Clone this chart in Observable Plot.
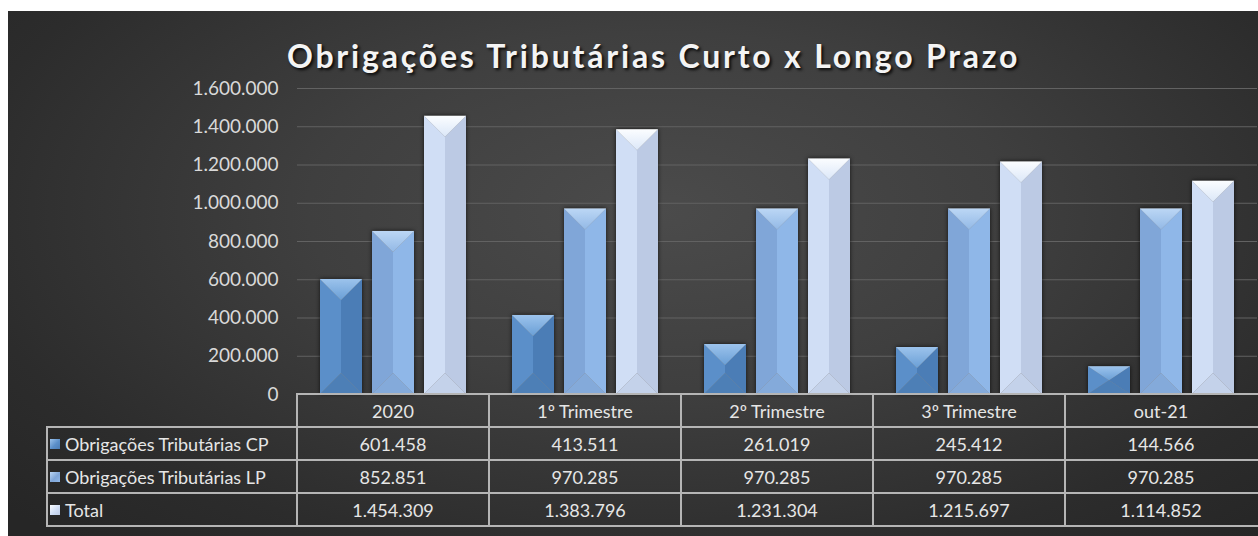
<!DOCTYPE html>
<html>
<head>
<meta charset="utf-8">
<script src="https://cdn.jsdelivr.net/npm/d3@7"></script>
<script src="https://cdn.jsdelivr.net/npm/@observablehq/plot@0.6"></script>
<style>
  body { margin: 0; background: #fff; width: 1258px; height: 536px; overflow: hidden; position: relative; font-family: Lato, "Open Sans", sans-serif; }
  #panel { position: absolute; left: 8px; top: 11px; width: 1250px; height: 525px;
    background: radial-gradient(ellipse 70% 85% at 52% 38%, #4b4b4b 0%, #3f3f3f 40%, #2c2c2c 80%, #262626 100%); }
  #title { position: absolute; left: 287px; top: 40px; font: bold 32px Lato, sans-serif; line-height: 32px;
    letter-spacing: 2.8px; color: #f4f4f4; white-space: nowrap; text-shadow: 2px 2px 3px rgba(0,0,0,0.85); }
  #chart { position: absolute; left: 0; top: 80px; }
  .cell { position: absolute; box-sizing: border-box; color: #e6e6e6; font-size: 18px; display: flex; align-items: center; justify-content: center; white-space: nowrap; }
  .hline, .vline { position: absolute; background: #b5b5b5; }
  .lab { justify-content: flex-start; padding-left: 3px; }
  .icon { width: 10px; height: 10px; margin-right: 5px; flex: none; }
</style>
</head>
<body>
<div id="panel"></div>
<div id="title">Obrigações Tributárias Curto x Longo Prazo</div>
<div id="chart"></div>
<div id="table"></div>
<script>
const categories = ["2020", "1º Trimestre", "2º Trimestre", "3º Trimestre", "out-21"];
const series = ["Obrigações Tributárias CP", "Obrigações Tributárias LP", "Total"];
const valuesCP = [601458, 413511, 261019, 245412, 144566];
const valuesLP = [852851, 970285, 970285, 970285, 970285];
const valuesTotal = [1454309, 1383796, 1231304, 1215697, 1114852];
const yTicks = [0, 200000, 400000, 600000, 800000, 1000000, 1200000, 1400000, 1600000];

const seriesValues = [valuesCP, valuesLP, valuesTotal];
const rows = [];
categories.forEach((c, ci) => series.forEach((s, si) => rows.push({categoria: c, serie: s, valor: seriesValues[si][ci]})));

const palette = {
  "Obrigações Tributárias CP": {top: ["#9cc3ec", "#6a9fd6"], left: "#5b8fc9", right: "#4b7db6", bottom: "#4d7fb6"},
  "Obrigações Tributárias LP": {top: ["#bcd7f5", "#93b9e6"], left: "#80a6d8", right: "#8fb7e8", bottom: "#84aada"},
  "Total": {top: ["#fbfdff", "#dbe7f8"], left: "#d0def5", right: "#bccae4", bottom: "#c4d2ea"}
};

const loc = d3.formatLocale({decimal: ",", thousands: ".", grouping: [3], currency: ["R$", ""]});
const fmt = loc.format(",d");

const NS = "http://www.w3.org/2000/svg";
function poly(g, pts, fill) {
  const p = document.createElementNS(NS, "polygon");
  p.setAttribute("points", pts.map(q => q.join(",")).join(" "));
  p.setAttribute("fill", fill);
  g.appendChild(p);
}
let gradId = 0;
function bevel(index, scales, values, dimensions, context, next) {
  const g = next(index, scales, values, dimensions, context);
  const rects = Array.from(g.querySelectorAll("rect"));
  rects.forEach((r, k) => {
    const pal = palette[rows[index[k]].serie];
    const x0 = +r.getAttribute("x"), y0 = +r.getAttribute("y");
    const w = +r.getAttribute("width"), h = +r.getAttribute("height");
    const d = Math.min(w / 2, h / 2);
    const cx = x0 + w / 2;
    const id = "topg" + (gradId++);
    const defs = document.createElementNS(NS, "defs");
    defs.innerHTML = `<linearGradient id="${id}" x1="0" y1="0" x2="0" y2="1"><stop offset="0" stop-color="${pal.top[0]}"/><stop offset="1" stop-color="${pal.top[1]}"/></linearGradient>`;
    g.appendChild(defs);
    poly(g, [[x0, y0], [cx, y0 + d], [cx, y0 + h - d], [x0, y0 + h]], pal.left);
    poly(g, [[x0 + w, y0], [cx, y0 + d], [cx, y0 + h - d], [x0 + w, y0 + h]], pal.right);
    poly(g, [[x0, y0 + h], [x0 + w, y0 + h], [cx, y0 + h - d]], pal.bottom);
    poly(g, [[x0, y0], [x0 + w, y0], [cx, y0 + d]], `url(#${id})`);
  });
  g.style.filter = "drop-shadow(0px 0px 2px rgba(0,0,0,0.7))";
  return g;
}

const chart = Plot.plot({
  width: 1258,
  height: 326,
  marginTop: 8,
  marginBottom: 12,
  marginLeft: 296,
  marginRight: 0,
  style: {background: "transparent", overflow: "visible", fontFamily: "Lato, sans-serif", fontSize: "19px", color: "#d9d9d9"},
  fx: {domain: categories, padding: 0, axis: null, label: null},
  x: {domain: series, paddingInner: 0.19, paddingOuter: 0.41, axis: null},
  y: {domain: [0, 1600000], axis: null},
  marks: [
    Plot.gridY(yTicks, {stroke: "#626262", strokeOpacity: 1, strokeWidth: 1.2}),
    Plot.axisY(yTicks, {tickFormat: fmt, tickSize: 0, tickPadding: 19, label: null, fill: "#d9d9d9", fontSize: 19}),
    Plot.barY(rows, {fx: "categoria", x: "serie", y: "valor", fill: "#888", render: bevel})
  ]
});
document.getElementById("chart").appendChild(chart);

// data table aligned to the fx scale
const fxs = chart.scale("fx");
const table = document.getElementById("table");
const top0 = 394; // y of value 0 in page coords (chart top 80 + plot bottom 314)
const rowH = 33;
const labelLeft = 47;
const colLeft = categories.map(c => fxs.apply(c));
const colW = fxs.bandwidth;
const tableRight = 1258;
function add(cls, style, html) {
  const e = document.createElement("div");
  e.className = cls;
  Object.assign(e.style, style);
  if (html != null) e.innerHTML = html;
  table.appendChild(e);
  return e;
}
categories.forEach((c, i) => add("cell", {left: colLeft[i] + "px", top: top0 + "px", width: colW + "px", height: rowH + "px"}, c));
series.forEach((s, si) => {
  const t = top0 + rowH * (si + 1);
  const pal = palette[s];
  add("cell lab", {left: labelLeft + "px", top: t + "px", width: (colLeft[0] - labelLeft) + "px", height: rowH + "px"},
    `<span class="icon" style="background:linear-gradient(135deg, ${pal.top[0]}, ${pal.left} 55%, ${pal.right})"></span>${s}`);
  categories.forEach((c, ci) => add("cell", {left: colLeft[ci] + "px", top: t + "px", width: colW + "px", height: rowH + "px"}, fmt(seriesValues[si][ci])));
});
const lw = 2;
add("hline", {left: colLeft[0] + "px", top: (top0 - 1) + "px", width: (tableRight - colLeft[0]) + "px", height: lw + "px"});
for (let r = 1; r <= series.length + 1; r++) {
  add("hline", {left: labelLeft + "px", top: (top0 + rowH * r - 1) + "px", width: (tableRight - labelLeft) + "px", height: lw + "px"});
}
add("vline", {left: (labelLeft - 1) + "px", top: (top0 + rowH - 1) + "px", width: lw + "px", height: (rowH * series.length + lw) + "px"});
categories.forEach((c, i) => add("vline", {left: (colLeft[i] - 1) + "px", top: (top0 - 1) + "px", width: lw + "px", height: (rowH * (series.length + 1) + lw) + "px"}));
</script>
</body>
</html>
